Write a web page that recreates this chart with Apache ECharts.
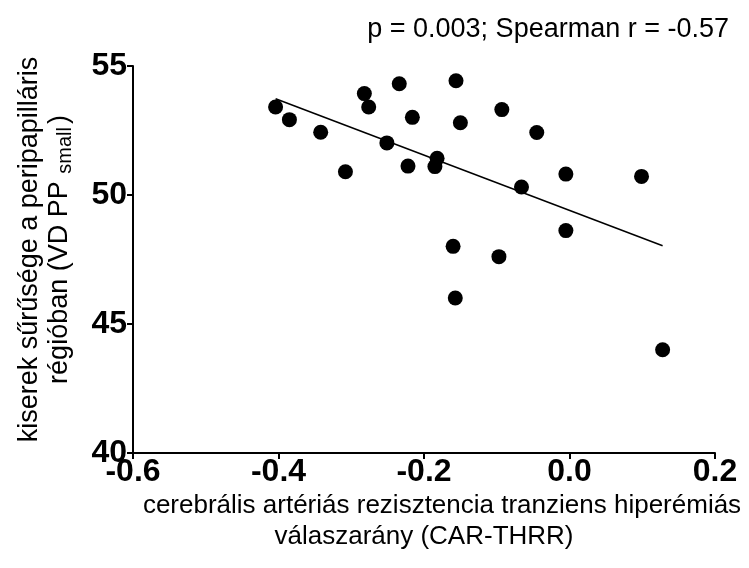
<!DOCTYPE html>
<html>
<head>
<meta charset="utf-8">
<script src="https://cdn.jsdelivr.net/npm/echarts@6/dist/echarts.min.js"></script>
<style>
  html, body { margin: 0; padding: 0; background: #fff; }
  #chart { width: 749px; height: 568px; }
</style>
</head>
<body>
<div id="chart"></div>
<script>
// CAR-THRR vs. peripapillary small-vessel density
const carThrr = [-0.404, -0.385, -0.342, -0.308, -0.282, -0.276, -0.251, -0.234, -0.216, -0.222,
                 -0.182, -0.185, -0.156, -0.160, -0.150, -0.157, -0.097, -0.093, -0.066, -0.045,
                 -0.005, -0.005, 0.099, 0.128];
const vdPP = [53.41, 52.92, 52.43, 50.90, 53.93, 53.41, 52.02, 54.31, 53.01, 51.12,
              51.42, 51.10, 54.43, 48.01, 52.80, 46.01, 47.61, 53.31, 50.31, 52.42,
              50.81, 48.62, 50.72, 44.00];
// regression line end points
const fitX = [-0.404, 0.128];
const fitY = [53.73, 48.03];

const xTicks = [-0.6, -0.4, -0.2, 0.0, 0.2];
const yTicks = [40, 45, 50, 55];
const statText = 'p = 0.003; Spearman r = -0.57';

const points = carThrr.map((x, i) => [x, vdPP[i]]);
const fitLine = fitX.map((x, i) => [x, fitY[i]]);

const FONT = '"Liberation Sans", Arial, sans-serif';
const chart = echarts.init(document.getElementById('chart'), null, { renderer: 'canvas' });

chart.setOption({
  animation: false,
  backgroundColor: '#ffffff',
  textStyle: { fontFamily: FONT, color: '#000' },
  title: {
    text: statText,
    right: 15,
    top: 11,
    textStyle: { fontFamily: FONT, fontSize: 27, fontWeight: 'normal', color: '#000' }
  },
  grid: { left: 133, right: 34, top: 66, bottom: 115, containLabel: false },
  xAxis: {
    type: 'value',
    min: xTicks[0],
    max: xTicks[xTicks.length - 1],
    interval: 0.2,
    axisLine: { show: true, onZero: false, lineStyle: { color: '#000', width: 2 } },
    axisTick: { show: true, length: 6, lineStyle: { color: '#000', width: 2 } },
    splitLine: { show: false },
    axisLabel: {
      margin: 3,
      fontFamily: FONT, fontSize: 32, fontWeight: 'bold', color: '#000',
      formatter: v => v.toFixed(1)
    },
    name: '{l1|cerebrális artériás rezisztencia tranziens hiperémiás}\n{l2|válaszarány (CAR-THRR)}',
    nameLocation: 'middle',
    nameGap: 32,
    nameTextStyle: {
      fontFamily: FONT, color: '#000', verticalAlign: 'top',
      rich: {
        l1: { fontFamily: FONT, fontSize: 26, lineHeight: 31, color: '#000', padding: [0, 0, 0, 36] },
        l2: { fontFamily: FONT, fontSize: 26, lineHeight: 31, color: '#000' }
      }
    }
  },
  yAxis: {
    type: 'value',
    min: yTicks[0],
    max: yTicks[yTicks.length - 1],
    interval: 5,
    axisLine: { show: true, onZero: false, lineStyle: { color: '#000', width: 2 } },
    axisTick: { show: true, length: 6, lineStyle: { color: '#000', width: 2 } },
    splitLine: { show: false },
    axisLabel: {
      margin: 6,
      fontFamily: FONT, fontSize: 32, fontWeight: 'bold', color: '#000'
    },
    name: '{a|kiserek sűrűsége a peripapilláris}\n{a|régióban (VD PP }{s|small}{a|)}',
    nameLocation: 'middle',
    nameRotate: 90,
    nameGap: 58,
    nameTextStyle: {
      fontFamily: FONT, color: '#000',
      padding: [0, 0, 0, 20],
      rich: {
        a: { fontFamily: FONT, fontSize: 27, lineHeight: 30, color: '#000' },
        s: { fontFamily: FONT, fontSize: 20, lineHeight: 30, color: '#000', verticalAlign: 'bottom', padding: [12, 3, 0, 0] }
      }
    }
  },
  series: [
    {
      type: 'scatter',
      data: points,
      symbol: 'circle',
      symbolSize: 15,
      itemStyle: { color: '#000', opacity: 1 },
      z: 3
    },
    {
      type: 'line',
      data: fitLine,
      showSymbol: false,
      symbol: 'none',
      lineStyle: { color: '#000', width: 1.5 },
      z: 2
    }
  ]
});
</script>
</body>
</html>
